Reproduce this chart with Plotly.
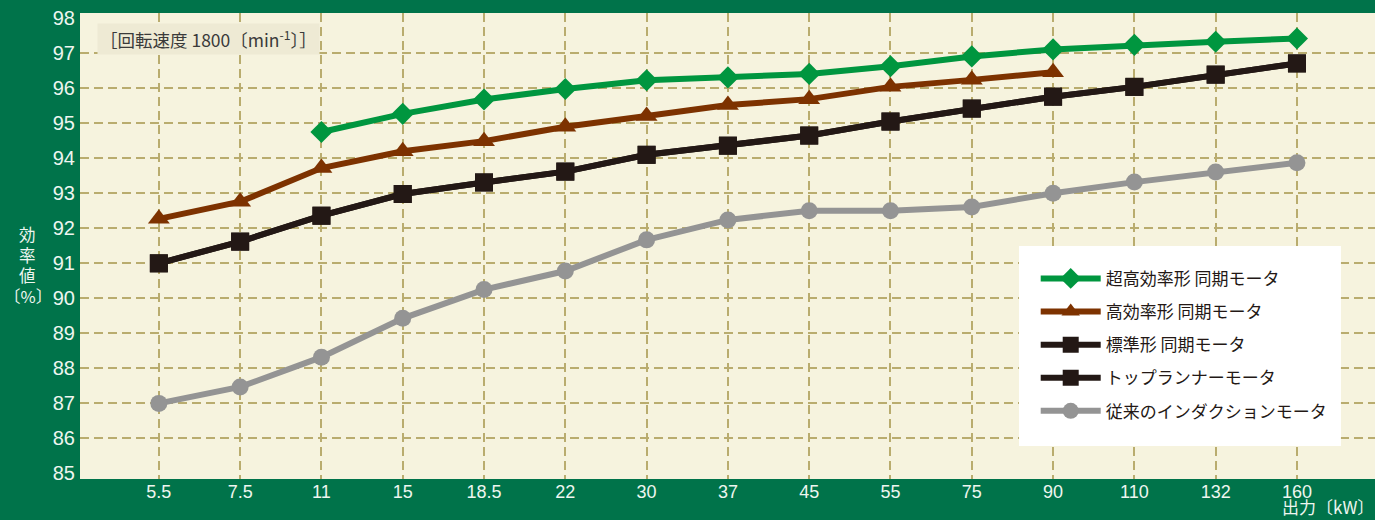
import plotly.graph_objects as go

# Output ratings (kW) and efficiency (%) per motor type
outputs = ["5.5", "7.5", "11", "15", "18.5", "22", "30", "37", "45", "55", "75", "90", "110", "132", "160"]

premium_sync = [None, None, 94.75, 95.27, 95.68, 95.98, 96.23, 96.31, 96.41, 96.63, 96.91, 97.11, 97.24, 97.33, 97.42]
high_sync = [92.27, 92.76, 93.72, 94.2, 94.49, 94.9, 95.21, 95.52, 95.69, 96.04, 96.24, 96.46, None, None, None]
standard_sync = [91.0, 91.62, 92.36, 92.98, 93.31, 93.62, 94.1, 94.36, 94.65, 95.05, 95.42, 95.76, 96.04, 96.39, 96.71]
top_runner = [91.0, 91.62, 92.36, 92.98, 93.31, 93.62, 94.1, 94.36, 94.65, 95.05, 95.42, 95.76, 96.04, 96.39, 96.71]
induction = [87.0, 87.47, 88.32, 89.43, 90.25, 90.78, 91.67, 92.24, 92.5, 92.5, 92.61, 93.0, 93.32, 93.61, 93.87]

grid_levels = list(range(86, 98))
tick_levels = list(range(85, 99))
y_title_chars = ["効", "率", "値", "〔%〕"]

series = [
    ("超高効率形 同期モータ", premium_sync, "#00963f", "diamond", 17),
    ("高効率形 同期モータ", high_sync, "#7d3200", "triangle-up", 19),
    ("標準形 同期モータ", standard_sync, "#231815", "square", 18),
    ("トップランナーモータ", top_runner, "#231815", "square", 18),
    ("従来のインダクションモータ", induction, "#949494", "circle", 17),
]

GREEN_BG = "#00734a"
CREAM = "#f6f3de"
GRID = "#b9ac6e"
LIGHT = "#eef6f0"
FONT = "Noto Sans CJK JP"
TICK_FONT = "Liberation Sans"

fig = go.Figure()

for i, (name, vals, color, symbol, size) in enumerate(series):
    fig.add_trace(go.Scatter(
        x=outputs, y=vals, name=name, mode="lines+markers",
        line=dict(color=color, width=6),
        marker=dict(symbol=symbol, size=size, color=color),
        legendgroup=f"g{i}",
        connectgaps=False,
    ))

# invisible trace to anchor the secondary grid axis
fig.add_trace(go.Scatter(x=outputs, y=induction, yaxis="y2", mode="none",
                         showlegend=False, hoverinfo="skip"))

fig.update_layout(
    width=1375, height=520,
    margin=dict(l=80, r=0, t=13, b=41),
    paper_bgcolor=GREEN_BG,
    plot_bgcolor=CREAM,
    showlegend=True,
    legend=dict(
        x=0.738, y=0.468, xanchor="left", yanchor="top",
        bgcolor="rgba(0,0,0,0)", borderwidth=0,
        font=dict(family=FONT, size=17, color="#231815"),
        tracegroupgap=8, itemwidth=60,
        traceorder="grouped",
    ),
    xaxis=dict(
        type="category", range=[-0.97, 14.96],
        showgrid=True, gridcolor=GRID, gridwidth=1.5, griddash="9px,5px",
        tickfont=dict(family=TICK_FONT, size=18, color=LIGHT),
        ticks="", zeroline=False, showline=False,
    ),
    yaxis=dict(
        range=[84.84, 98.15], tickvals=tick_levels,
        showgrid=False, zeroline=False, showline=False, ticks="",
        tickfont=dict(family=TICK_FONT, size=20, color=LIGHT),
        ticklabelstandoff=4,
    ),
    yaxis2=dict(
        range=[84.84, 98.15], tickvals=grid_levels, overlaying="y",
        showgrid=True, gridcolor=GRID, gridwidth=1.5, griddash="9px,5px",
        showticklabels=False, zeroline=False, showline=False, ticks="",
    ),
)

# white panel behind the legend
fig.add_shape(type="rect", xref="paper", yref="paper",
              x0=0.7251, x1=0.9737, y0=0.0708, y1=0.5,
              fillcolor="white", line=dict(width=0), layer="above")

fig.add_annotation(
    text="［回転速度 1800〔min<sup>-1</sup>〕］", xref="paper", yref="paper",
    x=0.013, y=0.978, xanchor="left", yanchor="top", showarrow=False,
    bgcolor="#eeead4", borderpad=2,
    font=dict(family=FONT, size=17.5, color="#3a3a3a"),
)

# vertical y-axis title, one character block per line
for k, ch in enumerate(y_title_chars):
    fig.add_annotation(
        text=ch, xref="paper", yref="paper",
        x=-0.0405, y=0.525 - k * 0.044, xanchor="center", yanchor="middle",
        showarrow=False, borderpad=0,
        font=dict(family=FONT, size=16.5, color=LIGHT),
    )

fig.add_annotation(
    text="出力〔kW〕", xref="paper", yref="paper",
    x=1.0, y=-0.088, xanchor="right", yanchor="bottom", showarrow=False,
    borderpad=0,
    font=dict(family=FONT, size=17, color=LIGHT),
)

fig.write_html("out.html")
